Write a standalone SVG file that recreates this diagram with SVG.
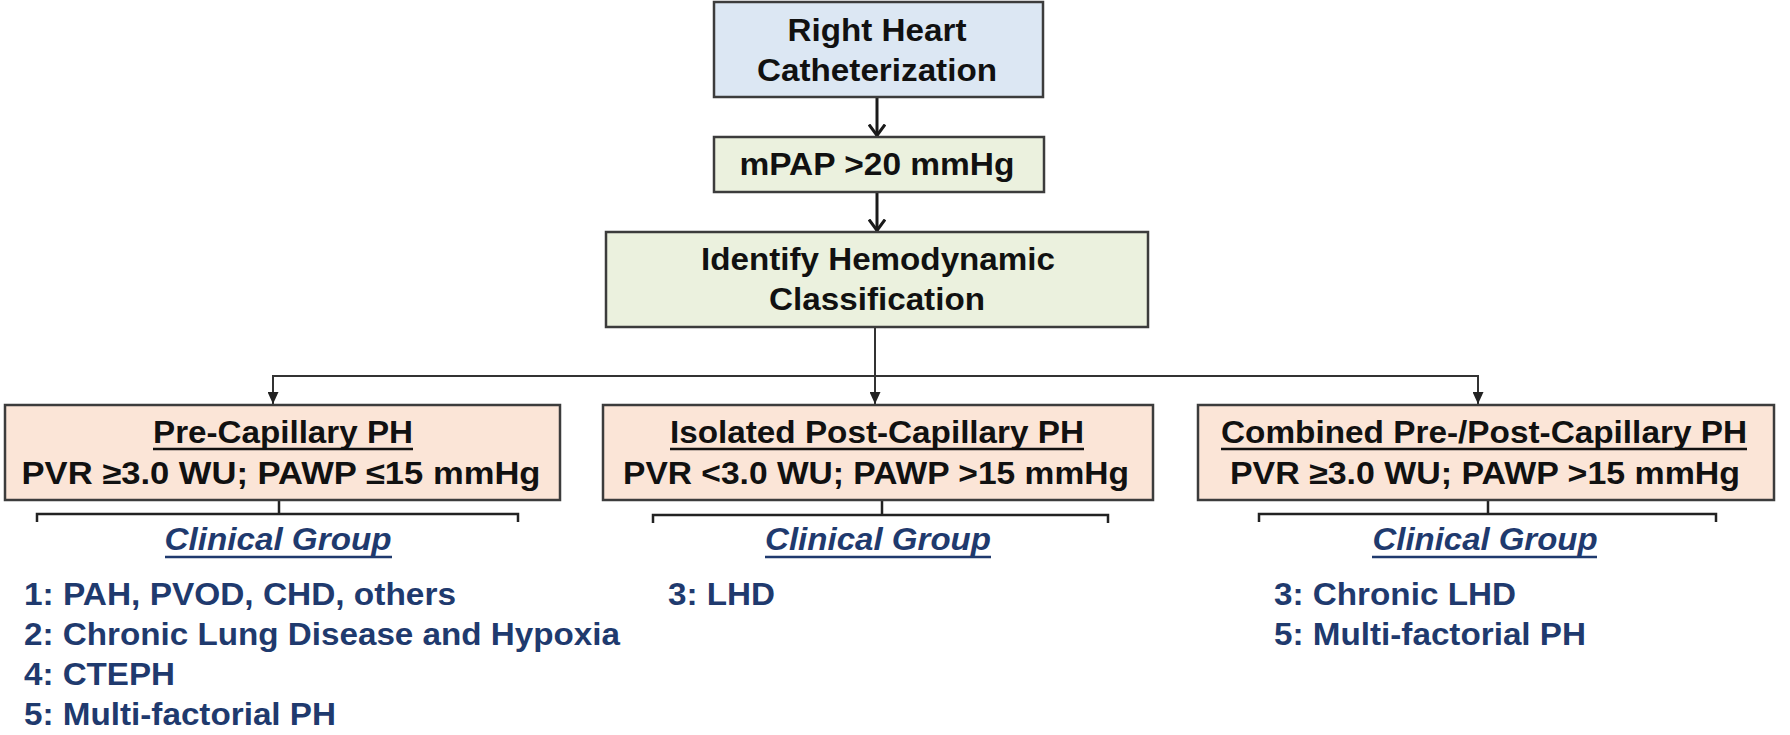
<svg xmlns="http://www.w3.org/2000/svg" width="1790" height="735" viewBox="0 0 1790 735">
<style>
.box{stroke:#3c3c3c;stroke-width:2.5}
.blue{fill:#dce7f3}
.green{fill:#ebf1de}
.peach{fill:#fbe5d7}
.t{font-family:"Liberation Sans",Arial,sans-serif;font-weight:bold;font-size:31px;fill:#111;text-anchor:middle}
.cg{font-family:"Liberation Sans",Arial,sans-serif;font-weight:bold;font-style:italic;font-size:31px;fill:#1f3a6e;text-anchor:middle}
.it{font-family:"Liberation Sans",Arial,sans-serif;font-weight:bold;font-size:31px;fill:#1f3a6e}
.ul{stroke:#111;stroke-width:2.5}
.ulb{stroke:#1f3a6e;stroke-width:2.5}
.thick{stroke:#1a1a1a;stroke-width:3;fill:none}
.thin{stroke:#333;stroke-width:2;fill:none}
.br{stroke:#222;stroke-width:2.5;fill:none}
</style>
<defs>
<marker id="vh" viewBox="0 0 14 18" refX="12.5" refY="9" markerWidth="14" markerHeight="18" markerUnits="userSpaceOnUse" orient="auto">
<polyline points="1,1 12,9 1,17" fill="none" stroke="#1a1a1a" stroke-width="3"/>
</marker>
<marker id="th" viewBox="0 0 12 11" refX="12" refY="5.5" markerWidth="12" markerHeight="11" markerUnits="userSpaceOnUse" orient="auto">
<path d="M0,0 L12,5.5 L0,11 z" fill="#222"/>
</marker>
</defs>
<rect width="1790" height="735" fill="#ffffff"/>

<g id="connectors">
<line class="thick" x1="877" y1="98" x2="877" y2="136" marker-end="url(#vh)"/>
<line class="thick" x1="877" y1="193" x2="877" y2="231" marker-end="url(#vh)"/>
<line class="thin" x1="875" y1="328" x2="875" y2="404" marker-end="url(#th)"/>
<line class="thin" x1="273" y1="376" x2="1478" y2="376"/>
<line class="thin" x1="273" y1="375" x2="273" y2="404" marker-end="url(#th)"/>
<line class="thin" x1="1478" y1="375" x2="1478" y2="404" marker-end="url(#th)"/>
<path class="br" d="M279,501 V514 M37,522 V514 H518 V522"/>
<path class="br" d="M882,501 V515 M653,523 V515 H1108 V523"/>
<path class="br" d="M1488,501 V514 M1259,522 V514 H1716 V522"/>
</g>

<g id="rhc">
<rect class="box blue" x="714" y="2" width="329" height="95"/>
<text class="t" x="877" y="41" textLength="179" lengthAdjust="spacingAndGlyphs">Right Heart</text>
<text class="t" x="877" y="81" textLength="240" lengthAdjust="spacingAndGlyphs">Catheterization</text>
</g>

<g id="mpap">
<rect class="box green" x="714" y="137" width="330" height="55"/>
<text class="t" x="877" y="175" textLength="275" lengthAdjust="spacingAndGlyphs">mPAP &gt;20 mmHg</text>
</g>

<g id="identify">
<rect class="box green" x="606" y="232" width="542" height="95"/>
<text class="t" x="878" y="270" textLength="354" lengthAdjust="spacingAndGlyphs">Identify Hemodynamic</text>
<text class="t" x="877" y="310" textLength="216" lengthAdjust="spacingAndGlyphs">Classification</text>
</g>

<g id="pre">
<rect class="box peach" x="5" y="405" width="555" height="95"/>
<text class="t" x="283" y="443" textLength="260" lengthAdjust="spacingAndGlyphs">Pre-Capillary PH</text>
<line class="ul" x1="153" y1="449" x2="413" y2="449"/>
<text class="t" x="281" y="484" textLength="519" lengthAdjust="spacingAndGlyphs">PVR ≥3.0 WU; PAWP ≤15 mmHg</text>
</g>

<g id="pre-groups">
<text class="cg" x="278" y="550" textLength="227" lengthAdjust="spacingAndGlyphs">Clinical Group</text>
<line class="ulb" x1="165" y1="557" x2="392" y2="557"/>
<text class="it" x="24" y="605" textLength="432" lengthAdjust="spacingAndGlyphs">1: PAH, PVOD, CHD, others</text>
<text class="it" x="24" y="645" textLength="596" lengthAdjust="spacingAndGlyphs">2: Chronic Lung Disease and Hypoxia</text>
<text class="it" x="24" y="685" textLength="151" lengthAdjust="spacingAndGlyphs">4: CTEPH</text>
<text class="it" x="24" y="725" textLength="312" lengthAdjust="spacingAndGlyphs">5: Multi-factorial PH</text>
</g>

<g id="isolated">
<rect class="box peach" x="603" y="405" width="550" height="95"/>
<text class="t" x="877" y="443" textLength="414" lengthAdjust="spacingAndGlyphs">Isolated Post-Capillary PH</text>
<line class="ul" x1="670" y1="449" x2="1084" y2="449"/>
<text class="t" x="876" y="484" textLength="506" lengthAdjust="spacingAndGlyphs">PVR &lt;3.0 WU; PAWP &gt;15 mmHg</text>
</g>

<g id="isolated-groups">
<text class="cg" x="878" y="550" textLength="226" lengthAdjust="spacingAndGlyphs">Clinical Group</text>
<line class="ulb" x1="765" y1="557" x2="991" y2="557"/>
<text class="it" x="668" y="605" textLength="107" lengthAdjust="spacingAndGlyphs">3: LHD</text>
</g>

<g id="combined">
<rect class="box peach" x="1198" y="405" width="576" height="95"/>
<text class="t" x="1484" y="443" textLength="526" lengthAdjust="spacingAndGlyphs">Combined Pre-/Post-Capillary PH</text>
<line class="ul" x1="1221" y1="449" x2="1747" y2="449"/>
<text class="t" x="1485" y="484" textLength="510" lengthAdjust="spacingAndGlyphs">PVR ≥3.0 WU; PAWP &gt;15 mmHg</text>
</g>

<g id="combined-groups">
<text class="cg" x="1485" y="550" textLength="225" lengthAdjust="spacingAndGlyphs">Clinical Group</text>
<line class="ulb" x1="1372" y1="557" x2="1597" y2="557"/>
<text class="it" x="1274" y="605" textLength="242" lengthAdjust="spacingAndGlyphs">3: Chronic LHD</text>
<text class="it" x="1274" y="645" textLength="312" lengthAdjust="spacingAndGlyphs">5: Multi-factorial PH</text>
</g>
</svg>
